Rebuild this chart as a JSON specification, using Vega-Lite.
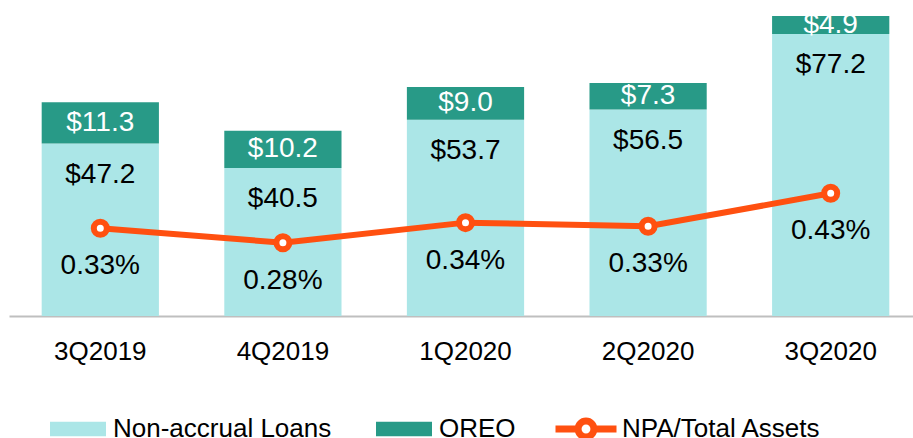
{
  "$schema": "https://vega.github.io/schema/vega-lite/v6.json",
  "width": 904,
  "height": 316,
  "autosize": {"type": "none"},
  "padding": {"left": 9, "top": 0, "right": 0, "bottom": 122},
  "background": "white",
  "config": {
    "view": {"stroke": null},
    "font": "Liberation Sans",
    "text": {"font": "Liberation Sans"},
    "legend": {"labelFont": "Liberation Sans"},
    "axis": {"labelFont": "Liberation Sans"}
  },
  "datasets": {
    "bars": [
      {"quarter": "3Q2019", "series": "Non-accrual Loans", "value": 47.2},
      {"quarter": "3Q2019", "series": "OREO", "value": 11.3},
      {"quarter": "4Q2019", "series": "Non-accrual Loans", "value": 40.5},
      {"quarter": "4Q2019", "series": "OREO", "value": 10.2},
      {"quarter": "1Q2020", "series": "Non-accrual Loans", "value": 53.7},
      {"quarter": "1Q2020", "series": "OREO", "value": 9.0},
      {"quarter": "2Q2020", "series": "Non-accrual Loans", "value": 56.5},
      {"quarter": "2Q2020", "series": "OREO", "value": 7.3},
      {"quarter": "3Q2020", "series": "Non-accrual Loans", "value": 77.2},
      {"quarter": "3Q2020", "series": "OREO", "value": 4.9}
    ],
    "npa": [
      {"quarter": "3Q2019", "series": "NPA/Total Assets", "ratio": 0.326, "label": "0.33%"},
      {"quarter": "4Q2019", "series": "NPA/Total Assets", "ratio": 0.282, "label": "0.28%"},
      {"quarter": "1Q2020", "series": "NPA/Total Assets", "ratio": 0.343, "label": "0.34%"},
      {"quarter": "2Q2020", "series": "NPA/Total Assets", "ratio": 0.332, "label": "0.33%"},
      {"quarter": "3Q2020", "series": "NPA/Total Assets", "ratio": 0.432, "label": "0.43%"}
    ]
  },
  "encoding": {
    "x": {
      "field": "quarter",
      "type": "nominal",
      "sort": null,
      "scale": {"range": [0, 913], "paddingInner": 0.358, "paddingOuter": 0.179},
      "axis": {
        "title": null,
        "labelAngle": 0,
        "labelFontSize": 26,
        "labelColor": "#000000",
        "labelPadding": 22,
        "ticks": false,
        "domainColor": "#BFBFBF",
        "domainWidth": 2,
        "grid": false
      }
    }
  },
  "layer": [
    {
      "data": {"name": "bars"},
      "layer": [
        {
          "mark": {"type": "bar"},
          "encoding": {
            "y": {"field": "value", "type": "quantitative", "stack": "zero", "scale": {"domain": [0, 86.5], "nice": false, "zero": true}, "axis": null},
            "order": {"field": "series", "sort": "ascending"},
            "color": {
              "field": "series",
              "type": "nominal",
              "scale": {"domain": ["Non-accrual Loans", "OREO"], "range": ["#ABE6E7", "#289A87"]},
              "legend": {
                "orient": "none",
                "legendX": 41,
                "legendY": 401,
                "direction": "horizontal",
                "title": null,
                "symbolType": "M-1,-0.26H1V0.26H-1Z",
                "symbolSize": 3136,
                "symbolStrokeWidth": 0,
                "symbolOpacity": 1,
                "labelFontSize": 26,
                "labelColor": "#000000",
                "labelOffset": 7,
                "labelLimit": 400,
                "columnPadding": 44,
                "padding": 0
              }
            }
          }
        },
        {
          "transform": [{"filter": "datum.series === 'Non-accrual Loans'"}],
          "mark": {"type": "text", "fontSize": 28, "color": "#000000", "baseline": "middle", "align": "center", "dy": 31},
          "encoding": {
            "y": {"field": "value", "type": "quantitative", "stack": null},
            "text": {"field": "value", "type": "quantitative", "format": "$.1f"}
          }
        },
        {
          "transform": [
            {"stack": "value", "groupby": ["quarter"], "sort": [{"field": "series", "order": "ascending"}], "as": ["lo", "hi"]},
            {"filter": "datum.series === 'OREO'"},
            {"fold": ["lo", "hi"], "as": ["edge", "pos"]}
          ],
          "mark": {"type": "text", "fontSize": 28, "color": "#FFFFFF", "baseline": "middle", "align": "center"},
          "encoding": {
            "y": {"field": "pos", "type": "quantitative", "aggregate": "mean"},
            "text": {"field": "value", "type": "quantitative", "aggregate": "max", "format": "$.1f"}
          }
        }
      ]
    },
    {
      "data": {"name": "npa"},
      "layer": [
        {
          "mark": {"type": "line", "strokeWidth": 6},
          "encoding": {
            "y": {"field": "ratio", "type": "quantitative", "scale": {"domain": [0.0595, 1.019], "nice": false, "zero": false}, "axis": null},
            "stroke": {
              "field": "series",
              "type": "nominal",
              "scale": {"domain": ["NPA/Total Assets"], "range": ["#FF5010"]},
              "legend": {
                "orient": "none",
                "legendX": 543,
                "legendY": 395,
                "title": null,
                "symbolType": "M-1,0H-0.26M0.26,0H1M-0.26,0A0.26,0.26,0,1,0,0.26,0A0.26,0.26,0,1,0,-0.26,0",
                "symbolSize": 3721,
                "symbolStrokeWidth": 7,
                "symbolFillColor": "#FFFFFF",
                "symbolOpacity": 1,
                "labelFontSize": 26,
                "labelColor": "#000000",
                "labelOffset": 2,
                "labelLimit": 400,
                "padding": 0
              }
            }
          }
        },
        {
          "mark": {"type": "point", "shape": "circle", "size": 169, "filled": false, "fill": "#FFFFFF", "stroke": "#FF5010", "strokeWidth": 6, "opacity": 1, "fillOpacity": 1},
          "encoding": {
            "y": {"field": "ratio", "type": "quantitative"}
          }
        },
        {
          "mark": {"type": "text", "fontSize": 28, "color": "#000000", "baseline": "middle", "align": "center", "dy": 38},
          "encoding": {
            "y": {"field": "ratio", "type": "quantitative"},
            "text": {"field": "label", "type": "nominal"}
          }
        }
      ]
    }
  ],
  "resolve": {"scale": {"y": "independent"}}
}
